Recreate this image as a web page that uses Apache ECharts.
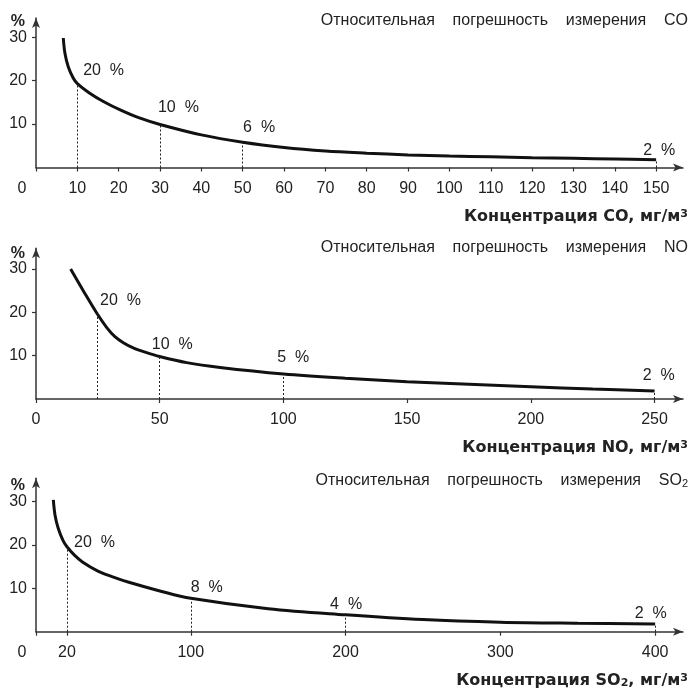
<!DOCTYPE html>
<html><head><meta charset="utf-8">
<script src="https://cdn.jsdelivr.net/npm/echarts@6/dist/echarts.min.js"></script>
<style>html,body{margin:0;padding:0;background:#fff}#c{width:690px;height:690px}</style>
</head><body><div id="c"></div>
<script>
// ---- data ----
const coX = [6.6, 7.0, 7.8, 9.0, 10, 13, 16.3, 20.5, 25, 30, 40, 50, 60, 70, 80, 90, 100, 110, 120, 130, 140, 150];
const coY = [29.8, 26.3, 23.2, 20.6, 19.3, 17.1, 15.2, 13.2, 11.4, 9.9, 7.5, 5.8, 4.6, 3.8, 3.3, 2.9, 2.65, 2.45, 2.25, 2.1, 1.95, 1.8];
const coTicks = [0, 10, 20, 30, 40, 50, 60, 70, 80, 90, 100, 110, 120, 130, 140, 150];
const coDropX = [10, 30, 50, 150];
const coLabelText = ['20  %', '10  %', '6  %', '2  %'];
const coLabelX = [11.4, 29.5, 50.1, 146.9];
const coLabelY = [22.3, 13.7, 9.1, 4.0];

const noX = [14, 19.1, 24.6, 28.6, 31.9, 35.3, 39.3, 44.7, 50, 60.9, 74.4, 100, 125, 150, 175, 200, 225, 250];
const noY = [30, 25.0, 19.8, 16.5, 14.4, 13.0, 11.8, 10.7, 9.8, 8.4, 7.3, 5.8, 4.8, 4.0, 3.4, 2.85, 2.3, 1.85];
const noTicks = [0, 50, 100, 150, 200, 250];
const noDropX = [24.6, 50, 100, 250];
const noLabelText = ['20  %', '10  %', '5  %', '2  %'];
const noLabelX = [25.9, 46.8, 97.5, 245.2];
const noLabelY = [22.8, 12.5, 9.6, 5.3];

const so2X = [11.2, 12.3, 14.4, 17.5, 20, 25, 30, 40, 50, 60, 80, 100, 150, 200, 250, 300, 350, 400];
const so2Y = [30.4, 26.9, 23.8, 21.0, 19.6, 17.6, 16.1, 14.0, 12.6, 11.4, 9.4, 7.7, 5.3, 3.9, 2.8, 2.2, 1.95, 1.8];
const so2Ticks = [0, 20, 100, 200, 300, 400];
const so2DropX = [20, 100, 200, 400];
const so2LabelText = ['20  %', '8  %', '4  %', '2  %'];
const so2LabelX = [24.6, 100, 190, 386.8];
const so2LabelY = [20.5, 10.2, 6.2, 4.2];

const yTicks = [10, 20, 30];
const titles = ['Относительная    погрешность    измерения    CO',
                'Относительная    погрешность    измерения    NO',
                'Относительная    погрешность    измерения    SO{sub|2}'];
const axisNames = ['Концентрация CO, мг/м{sup|3}',
                   'Концентрация NO, мг/м{sup|3}',
                   'Концентрация SO{sub|2}, мг/м{sup|3}'];

// ---- layout / style ----
const FONT = 'Liberation Sans, Arial, Helvetica, sans-serif';
const BFONT = 'DejaVu Sans, Liberation Sans, Arial, sans-serif';
const TXT = '#222';
const AX = '#333';
const panels = [
  {x: coX, y: coY, ticks: coTicks, drop: coDropX, lt: coLabelText, lx: coLabelX, ly: coLabelY,
   top: 18, height: 149.5, xmax: 156.5, ymax: 34.4, shiftZero: true, titleTop: 13},
  {x: noX, y: noY, ticks: noTicks, drop: noDropX, lt: noLabelText, lx: noLabelX, ly: noLabelY,
   top: 248.3, height: 150.7, xmax: 261.5, ymax: 34.8, shiftZero: false, titleTop: 240},
  {x: so2X, y: so2Y, ticks: so2Ticks, drop: so2DropX, lt: so2LabelText, lx: so2LabelX, ly: so2LabelY,
   top: 478.3, height: 153.4, xmax: 418, ymax: 35.4, shiftZero: true, titleTop: 473}
];

const option = {
  animation: false,
  backgroundColor: '#fff',
  textStyle: {fontFamily: FONT},
  title: [], grid: [], xAxis: [], yAxis: [], series: []
};

panels.forEach((p, i) => {
  option.title.push({
    text: titles[i], right: 2, top: p.titleTop, padding: 0,
    textStyle: {fontFamily: FONT, fontSize: 16, fontWeight: 'normal', color: TXT,
      rich: {sub: {fontFamily: FONT, fontSize: 11, color: TXT, verticalAlign: 'bottom'}}}
  });
  option.grid.push({left: 36, right: 7, top: p.top, height: p.height, containLabel: false});
  option.xAxis.push({
    type: 'value', gridIndex: i, min: 0, max: p.xmax,
    name: axisNames[i], nameLocation: 'end', nameGap: 5,
    nameTextStyle: {fontFamily: BFONT, fontSize: 16, fontWeight: 'bold', color: TXT,
      align: 'right', verticalAlign: 'top', padding: [41, 0, 0, 0],
      rich: {
        sub: {fontFamily: BFONT, fontSize: 11, fontWeight: 'bold', color: TXT, verticalAlign: 'bottom'},
        sup: {fontFamily: BFONT, fontSize: 11, fontWeight: 'bold', color: TXT, verticalAlign: 'top'}
      }},
    axisLine: {show: true, onZero: false, symbol: ['none', 'arrow'], symbolSize: [6, 10],
      lineStyle: {color: AX, width: 1.5}},
    axisTick: {show: true, customValues: p.ticks, length: 4, lineStyle: {color: AX, width: 1.2}},
    axisLabel: {customValues: p.ticks, fontSize: 16, color: TXT, margin: 13, fontFamily: FONT,
      formatter: v => (v === 0 && p.shiftZero) ? '{z|0}' : String(v),
      rich: {z: {fontSize: 16, color: TXT, fontFamily: FONT, padding: [0, 28, 0, 0]}}},
    splitLine: {show: false}
  });
  option.yAxis.push({
    type: 'value', gridIndex: i, min: 0, max: p.ymax,
    name: '%', nameLocation: 'end', nameGap: -7,
    nameTextStyle: {fontFamily: FONT, fontSize: 16, fontWeight: 'bold', color: TXT,
      align: 'right', verticalAlign: 'middle', padding: [0, 11, 0, 0]},
    axisLine: {show: true, onZero: false, symbol: ['none', 'arrow'], symbolSize: [6, 10],
      lineStyle: {color: AX, width: 1.5}},
    axisTick: {show: true, customValues: yTicks, length: 4, lineStyle: {color: AX, width: 1.2}},
    axisLabel: {customValues: yTicks, fontSize: 16, color: TXT, margin: 9, fontFamily: FONT},
    splitLine: {show: false}
  });
  const yAt = x => p.y[p.x.indexOf(x)];
  option.series.push({
    type: 'line', xAxisIndex: i, yAxisIndex: i,
    data: p.x.map((x, k) => [x, p.y[k]]),
    smooth: 0.35, symbol: 'none',
    lineStyle: {color: '#111', width: 3},
    markLine: {
      silent: true, symbol: 'none', label: {show: false},
      lineStyle: {color: '#222', width: 1, type: [2, 2]},
      data: p.drop.map(x => [{coord: [x, 0]}, {coord: [x, yAt(x)]}])
    },
    z: 3
  });
  option.series.push({
    type: 'scatter', xAxisIndex: i, yAxisIndex: i,
    data: p.lx.map((x, k) => [x, p.ly[k], p.lt[k]]),
    symbolSize: 0, itemStyle: {color: TXT, opacity: 1}, silent: true,
    label: {show: true, position: 'right', distance: 0, formatter: q => q.data[2],
      fontSize: 16, color: TXT, opacity: 1, fontFamily: FONT, align: 'left', verticalAlign: 'middle'}
  });
});

const chart = echarts.init(document.getElementById('c'), null, {renderer: 'canvas'});
chart.setOption(option);
</script>
</body></html>
